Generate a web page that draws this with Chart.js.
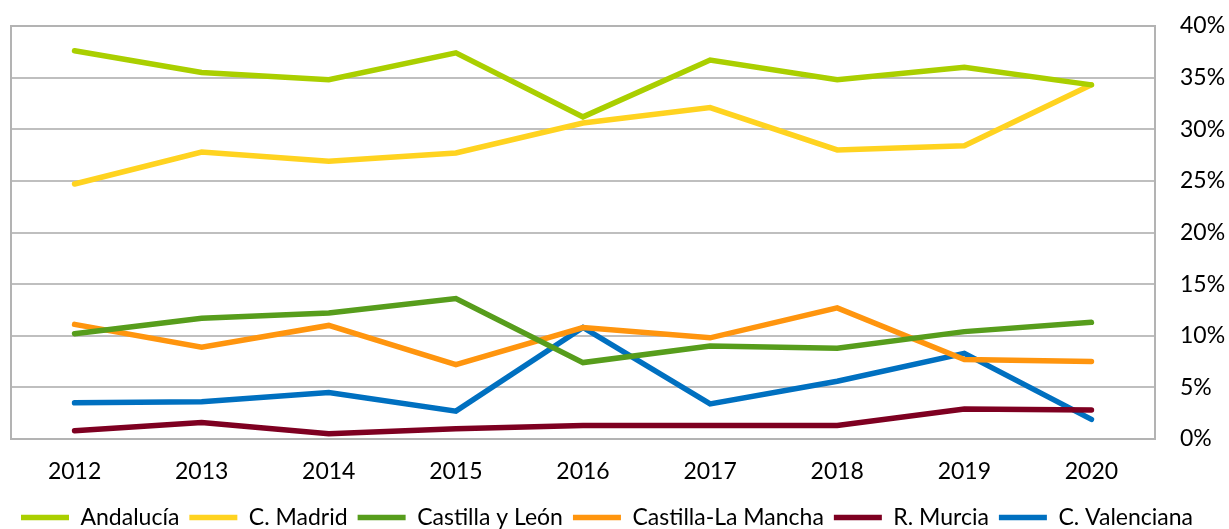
<!DOCTYPE html>
<html>
<head>
<meta charset="utf-8">
<script src="https://cdn.jsdelivr.net/npm/chart.js@4"></script>
<style>
  html, body { margin: 0; padding: 0; background: #fff; }
  #wrap { width: 1229px; height: 529px; position: relative; }
</style>
</head>
<body>
<div id="wrap"><canvas id="chart"></canvas></div>
<script>
const years = ["2012", "2013", "2014", "2015", "2016", "2017", "2018", "2019", "2020"];

const andalucia = [37.6, 35.5, 34.8, 37.4, 31.2, 36.7, 34.8, 36.0, 34.3];
const madrid = [24.7, 27.8, 26.9, 27.7, 30.6, 32.1, 28.0, 28.4, 34.3];
const castillaLeon = [10.2, 11.7, 12.2, 13.6, 7.4, 9.0, 8.8, 10.4, 11.3];
const castillaMancha = [11.1, 8.9, 11.0, 7.2, 10.8, 9.8, 12.7, 7.7, 7.5];
const murcia = [0.8, 1.6, 0.5, 1.0, 1.3, 1.3, 1.3, 2.9, 2.8];
const valenciana = [3.5, 3.6, 4.5, 2.7, 10.8, 3.4, 5.6, 8.3, 1.9];

const seriesNames = ["Andalucía", "C. Madrid", "Castilla y León", "Castilla-La Mancha", "R. Murcia", "C. Valenciana"];
const seriesData = [andalucia, madrid, castillaLeon, castillaMancha, murcia, valenciana];
const seriesColors = ["#aacf00", "#ffd320", "#579d1c", "#ff950e", "#7e0021", "#0070c0"];

// frame round the plot area
const frame = {
  id: "frame",
  beforeDatasetsDraw(chart) {
    const a = chart.chartArea;
    const ctx = chart.ctx;
    ctx.save();
    ctx.strokeStyle = "#b3b3b3";
    ctx.lineWidth = 2;
    ctx.strokeRect(a.left, a.top, a.right - a.left, a.bottom - a.top);
    ctx.restore();
  }
};

const ctx = document.getElementById("chart").getContext("2d");

new Chart(ctx, {
  type: "line",
  data: {
    labels: years,
    datasets: seriesNames.map((name, i) => ({
      label: name,
      data: seriesData[i],
      borderColor: seriesColors[i],
      backgroundColor: seriesColors[i],
      borderWidth: 5.5,
      borderCapStyle: "round",
      borderJoinStyle: "miter",
      pointRadius: 0,
      tension: 0,
    })),
  },
  options: {
    responsive: true,
    maintainAspectRatio: false,
    animation: false,
    layout: {
      padding: { top: 26, left: 11, right: 0, bottom: 0 },
    },
    plugins: {
      tooltip: { enabled: false },
      legend: {
        position: "bottom",
        align: "start",
        maxHeight: 33,
        labels: {
          usePointStyle: true,
          pointStyle: "line",
          pointStyleWidth: 48,
          color: "#000",
          padding: 10,
          font: { family: "Lato", size: 23 },
        },
      },
    },
    scales: {
      x: {
        offset: true,
        grid: { display: false, drawTicks: false },
        border: { display: false },
        afterFit(scale) {
          scale.height = 57;
        },
        ticks: {
          color: "#000",
          padding: 19,
          font: { family: "Lato", size: 23 },
        },
      },
      y: {
        position: "right",
        min: 0,
        max: 40,
        grid: {
          color: "#bfbfbf",
          lineWidth: 2,
          drawTicks: true,
          tickLength: 25,
          tickColor: "rgba(0,0,0,0)",
        },
        border: { display: false },
        afterFit(scale) {
          scale.width = 74;
        },
        ticks: {
          stepSize: 5,
          padding: 0,
          color: "#000",
          font: { family: "Lato", size: 23 },
          callback: (v) => v + "%",
        },
      },
    },
  },
  plugins: [frame],
});
</script>
</body>
</html>
